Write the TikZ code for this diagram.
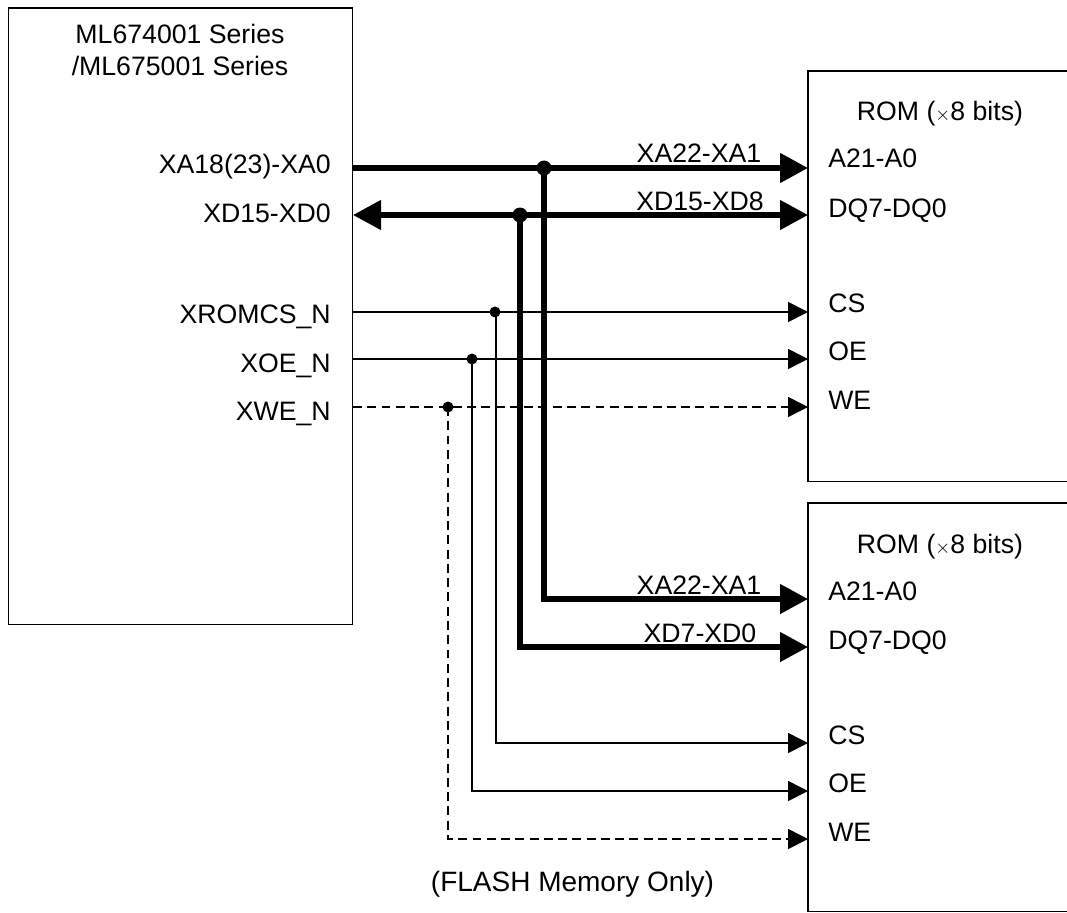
\documentclass[tikz,border=0pt]{standalone}
\usepackage{fontspec}
\setmainfont{Liberation Sans}
\usetikzlibrary{arrows.meta}
\tikzset{
  x=0.75pt,y=-0.75pt,
  boxs/.style={draw=black,line width=1.25pt,inner sep=0pt},
  part/.style={inner sep=0pt,minimum width=0pt},
  lbl/.style={inner sep=0pt,font=\fontsize{20}{24}\selectfont},
  bus/.style={line width=4.2pt,draw=black},
  sig/.style={line width=1.25pt,draw=black},
  dsig/.style={line width=1.25pt,draw=black,dash pattern=on 6.7pt off 4pt},
  bigtip/.style={-{Triangle[length=21pt,width=21.5pt]}},
  bigtips/.style={{Triangle[length=21pt,width=21.5pt]}-{Triangle[length=21pt,width=21.5pt]}},
  smalltip/.style={-{Triangle[length=15pt,width=15pt]}},
  dotb/.style={circle,fill=black,inner sep=0pt,minimum size=11.25pt},
  dots/.style={circle,fill=black,inner sep=0pt,minimum size=8.25pt}
}
\begin{document}
\begin{tikzpicture}
\useasboundingbox (0,0) rectangle (1067,913);
% boxes
\node[boxs,anchor=north west,minimum width=258.2pt,minimum height=462pt] (mcu) at (7.5,7.5) {};
\node[part,anchor=north west,minimum width=194.25pt,minimum height=307.5pt] (rom1) at (808,71) {};
\node[part,anchor=north west,minimum width=194.25pt,minimum height=306pt] (rom2) at (808,503) {};
\draw[boxs] (rom1.north east) -- (rom1.north west) -- (rom1.south west) -- (rom1.south east);
\draw[boxs] (rom2.north east) -- (rom2.north west) -- (rom2.south west) -- (rom2.south east);
% junctions
\node[dotb] (ja) at (544,168) {};
\node[dotb] (jd) at (520,215) {};
\node[dots] (jc) at (495,312) {};
\node[dots] (jo) at (472,359) {};
\node[dots] (jw) at (448,407) {};
% pin coordinates
\coordinate (ma) at (353,168); \coordinate (md) at (353,215);
\coordinate (mc) at (353,312); \coordinate (mo) at (353,359); \coordinate (mw) at (353,407);
\coordinate (r1a) at (808,168); \coordinate (r1d) at (808,215);
\coordinate (r1c) at (808,312); \coordinate (r1o) at (808,359); \coordinate (r1w) at (808,407);
\coordinate (r2a) at (808,599); \coordinate (r2d) at (808,647);
\coordinate (r2c) at (808,743); \coordinate (r2o) at (808,791); \coordinate (r2w) at (808,839);
% connectors
\draw[bus,bigtip] (ma) -- (r1a);
\draw[bus,bigtips] (md) -- (r1d);
\draw[sig,smalltip] (mc) -- (r1c);
\draw[sig,smalltip] (mo) -- (r1o);
\draw[dsig,smalltip] (mw) -- (r1w);
\draw[bus,bigtip] (ja.center) |- (r2a);
\draw[bus,bigtip] (jd.center) |- (r2d);
\draw[sig,smalltip] (jc.center) ++(1,0) |- (r2c);
\draw[sig,smalltip] (jo.center) |- (r2o);
\draw[dsig,smalltip] (jw.center) |- (r2w);
% texts
\node[lbl,anchor=base] (title1) at (180,44) {ML674001 Series};
\node[lbl,anchor=base] (title2) at (180,76) {/ML675001 Series};
\node[lbl,anchor=base east] (la) at (331,174) {XA18(23)-XA0};
\node[lbl,anchor=base east] (ld) at (331,223) {XD15-XD0};
\node[lbl,anchor=base east] (lc) at (331,323) {XROMCS\_N};
\node[lbl,anchor=base east] (lo) at (331,372) {XOE\_N};
\node[lbl,anchor=base east] (lw) at (331,420) {XWE\_N};
\node[lbl,anchor=base] (b1) at (699,163) {XA22-XA1};
\node[lbl,anchor=base] (b2) at (700,210) {XD15-XD8};
\node[lbl,anchor=base] (b3) at (699,594) {XA22-XA1};
\node[lbl,anchor=base] (b4) at (700,642) {XD7-XD0};
\node[lbl,anchor=base] (t1) at (940,121) {ROM ($\scriptstyle\times$8 bits)};
\node[lbl,anchor=base west] (p1a) at (828,168) {A21-A0};
\node[lbl,anchor=base west] (p1d) at (828,217) {DQ7-DQ0};
\node[lbl,anchor=base west] (p1c) at (828,312) {CS};
\node[lbl,anchor=base west] (p1o) at (828,360) {OE};
\node[lbl,anchor=base west] (p1w) at (828,409) {WE};
\node[lbl,anchor=base] (t2) at (940,553) {ROM ($\scriptstyle\times$8 bits)};
\node[lbl,anchor=base west] (p2a) at (828,600) {A21-A0};
\node[lbl,anchor=base west] (p2d) at (828,649) {DQ7-DQ0};
\node[lbl,anchor=base west] (p2c) at (828,744) {CS};
\node[lbl,anchor=base west] (p2o) at (828,792) {OE};
\node[lbl,anchor=base west] (p2w) at (828,841) {WE};
\node[lbl,anchor=base,font=\fontsize{21}{24}\selectfont] (fl) at (572.5,891) {(FLASH Memory Only)};
\end{tikzpicture}
\end{document}
